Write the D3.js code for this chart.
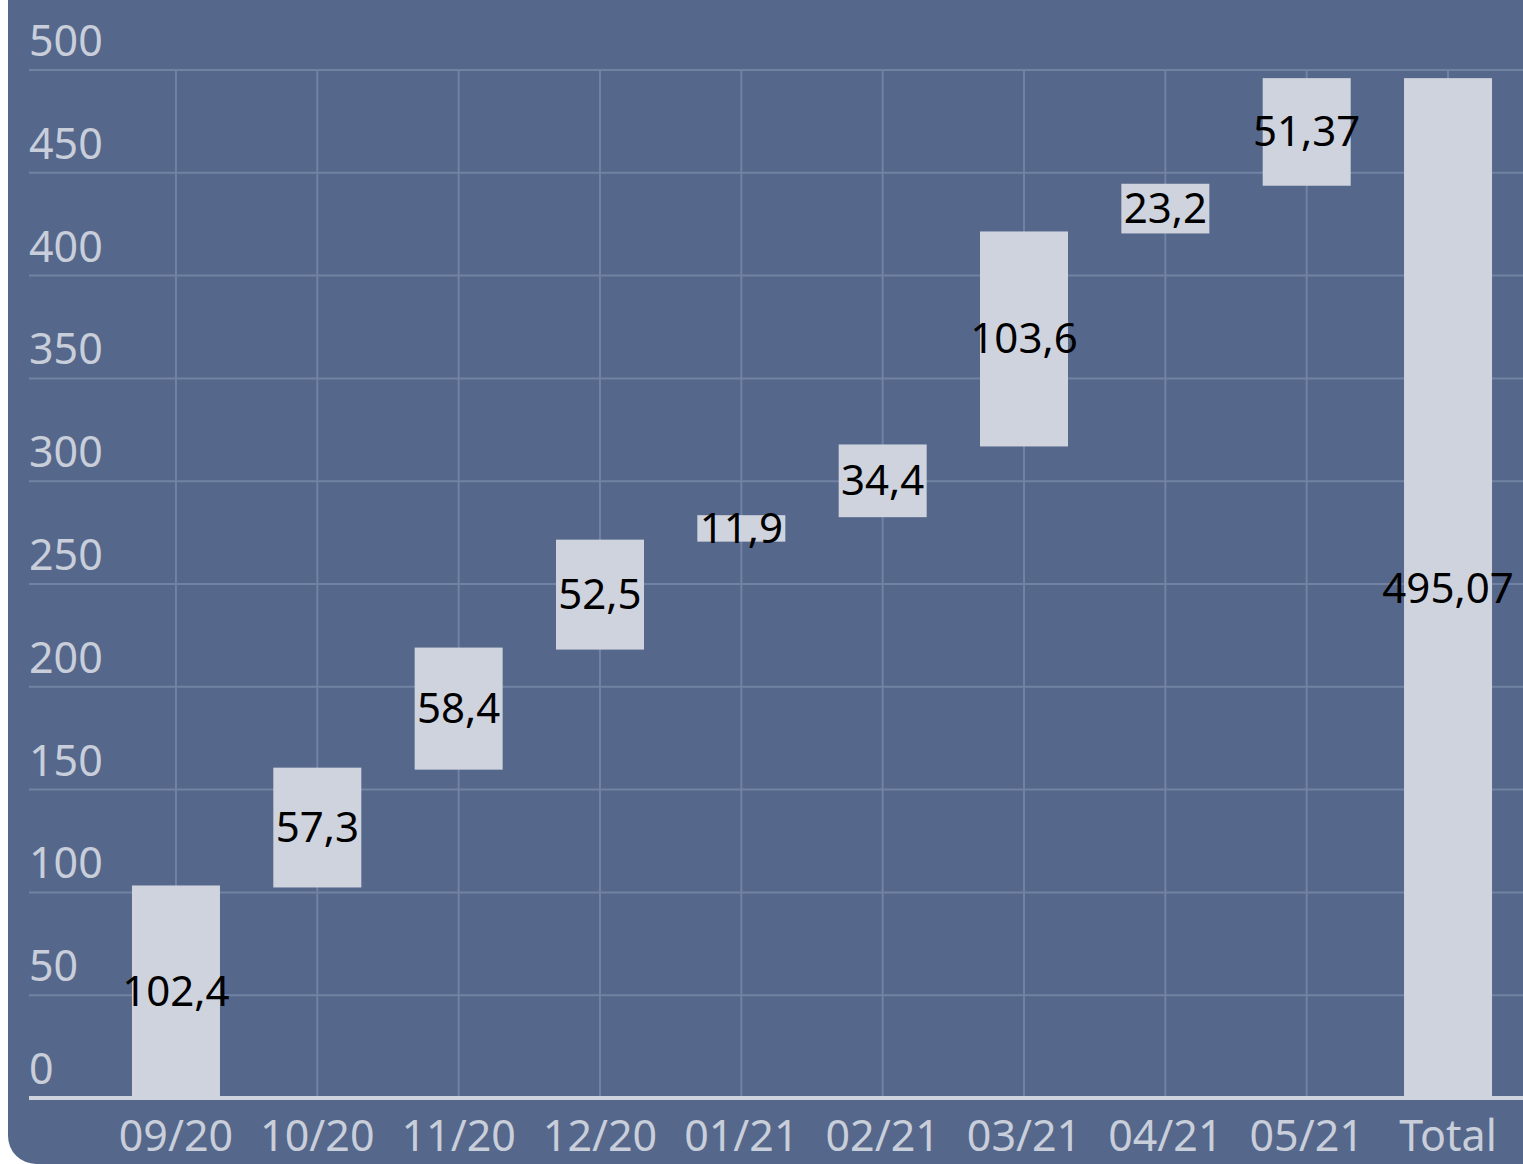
<!DOCTYPE html>
<html>
<head>
<meta charset="utf-8">
<script src="https://cdn.jsdelivr.net/npm/d3@7"></script>
<style>
  html, body { margin: 0; padding: 0; background: #ffffff; }
  svg { display: block; }
</style>
</head>
<body>
<svg id="chart" width="1523" height="1164"></svg>
<script>
// Monthly increments and the closing total
const categories = ["09/20", "10/20", "11/20", "12/20", "01/21", "02/21", "03/21", "04/21", "05/21", "Total"];
const increments = [102.4, 57.3, 58.4, 52.5, 11.9, 34.4, 103.6, 23.2, 51.37];
const totalValue = 495.07;
const labels = ["102,4", "57,3", "58,4", "52,5", "11,9", "34,4", "103,6", "23,2", "51,37", "495,07"];
const yTicks = [0, 50, 100, 150, 200, 250, 300, 350, 400, 450, 500];

const W = 1523, H = 1164;
const BG = "#55678a", GRID = "#7282a3", BAR = "#cfd3de", TEXT = "#c9cedb";
const FONT = "'Noto Sans', 'Open Sans', sans-serif";

// Build waterfall segments: each month starts where the previous ended
const segments = [];
let running = 0;
increments.forEach((v, i) => {
  segments.push({ cat: categories[i], start: running, end: running + v, label: labels[i] });
  running += v;
});
segments.push({ cat: "Total", start: 0, end: totalValue, label: labels[labels.length - 1] });

const svg = d3.select("#chart");

// Panel background with rounded lower-left corner
svg.append("rect")
  .attr("x", 8).attr("y", -60)
  .attr("width", W + 60).attr("height", H + 60)
  .attr("rx", 28).attr("ry", 28)
  .attr("fill", BG);

const y = d3.scaleLinear().domain([0, 500]).range([1098, 70]);
const x = d3.scaleBand()
  .domain(categories)
  .range([105.3, 1518.7])
  .paddingInner(0.3773)
  .paddingOuter(0.3773 / 2);

const gridLeft = 29, gridRight = W;

// Horizontal grid
svg.append("g").selectAll("line")
  .data(yTicks.filter(t => t > 0))
  .join("line")
  .attr("x1", gridLeft).attr("x2", gridRight)
  .attr("y1", d => y(d)).attr("y2", d => y(d))
  .attr("stroke", GRID).attr("stroke-width", 2);

// Vertical grid at category centres
svg.append("g").selectAll("line")
  .data(categories)
  .join("line")
  .attr("x1", d => x(d) + x.bandwidth() / 2)
  .attr("x2", d => x(d) + x.bandwidth() / 2)
  .attr("y1", y(500)).attr("y2", y(0))
  .attr("stroke", GRID).attr("stroke-width", 2);

// Y tick labels sit just above their grid lines
svg.append("g").selectAll("text")
  .data(yTicks)
  .join("text")
  .attr("x", gridLeft)
  .attr("y", d => y(d) - 14)
  .attr("fill", TEXT)
  .attr("font-family", FONT)
  .attr("font-size", 43)
  .text(d => d);

// Bars
svg.append("g").selectAll("rect")
  .data(segments)
  .join("rect")
  .attr("x", d => x(d.cat))
  .attr("width", x.bandwidth())
  .attr("y", d => y(d.end) - 2)
  .attr("height", d => y(d.start) - y(d.end) + 2)
  .attr("fill", BAR);

// Zero baseline
svg.append("line")
  .attr("x1", gridLeft).attr("x2", gridRight)
  .attr("y1", y(0)).attr("y2", y(0))
  .attr("stroke", BAR).attr("stroke-width", 4);

// Value labels centred in each bar
svg.append("g").selectAll("text")
  .data(segments)
  .join("text")
  .attr("x", d => x(d.cat) + x.bandwidth() / 2)
  .attr("y", d => (y(d.start) + y(d.end)) / 2 - 3)
  .attr("text-anchor", "middle")
  .attr("dominant-baseline", "central")
  .attr("fill", "#000000")
  .attr("font-family", FONT)
  .attr("font-size", 42)
  .text(d => d.label);

// Category labels
svg.append("g").selectAll("text")
  .data(categories)
  .join("text")
  .attr("x", d => x(d) + x.bandwidth() / 2)
  .attr("y", 1151)
  .attr("text-anchor", "middle")
  .attr("fill", TEXT)
  .attr("font-family", FONT)
  .attr("font-size", 43)
  .text(d => d);
</script>
</body>
</html>
